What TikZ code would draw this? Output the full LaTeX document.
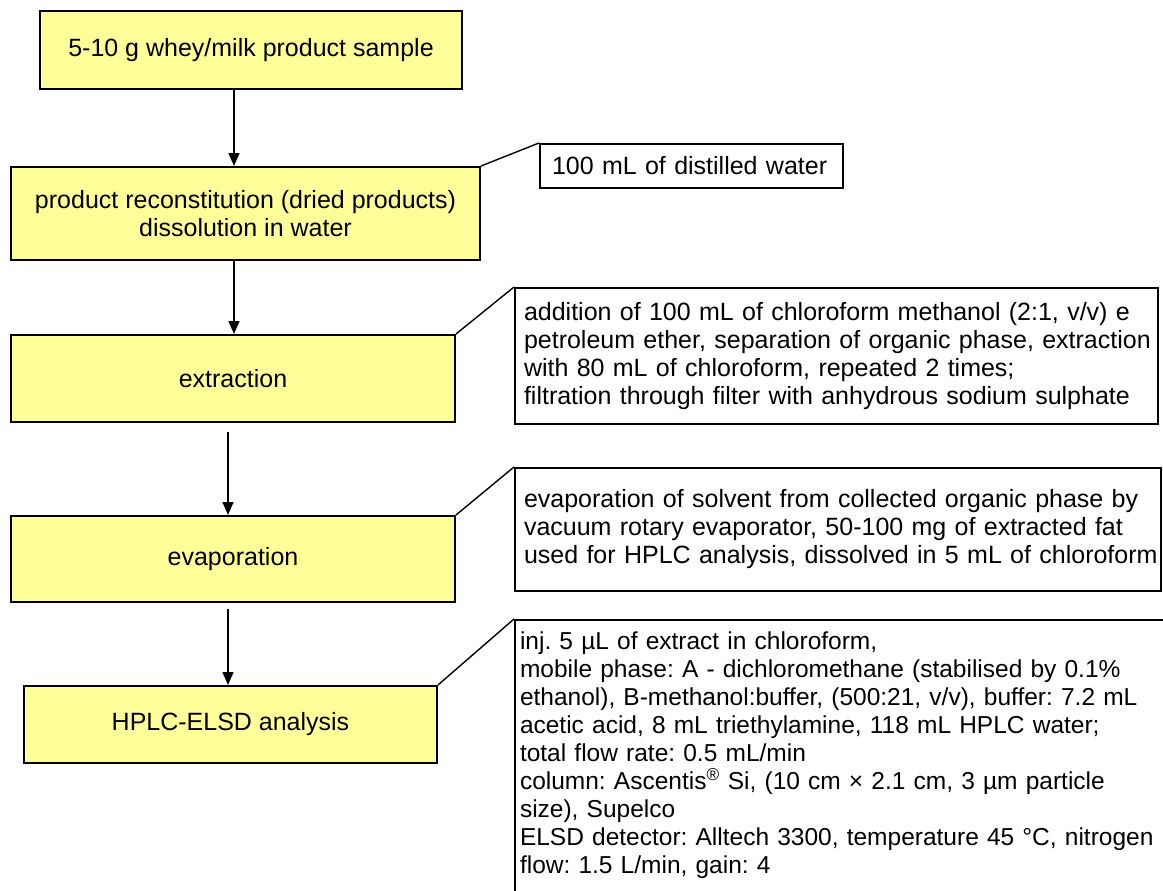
\documentclass[tikz,border=0pt]{standalone}
\usepackage{fontspec}
\setmainfont{Liberation Sans}
\usetikzlibrary{arrows.meta}
\definecolor{stepfill}{HTML}{FFFF99}
\frenchspacing
\begin{document}
\begin{tikzpicture}[x=1pt,y=-1pt,
  every node/.style={font=\fontsize{25}{28}\selectfont},
  stepbox/.style={draw=black, line width=2pt, fill=stepfill, align=center, inner sep=0pt},
  notebox/.style={draw=black, line width=2pt, fill=white, align=left, anchor=north west, inner xsep=9pt, inner ysep=0pt},
  flow/.style={line width=1.4pt, -{Triangle[length=13pt,width=11pt]}},
  link/.style={line width=1.4pt}]
\useasboundingbox (0,0) rectangle (1163,891);
\clip (0,0) rectangle (1163,891);

% process steps
\node[stepbox, minimum width=422pt, minimum height=78pt] (s1) at (251,50) {5-10 g whey/milk product sample};
\node[stepbox, minimum width=469pt, minimum height=93pt] (s2) at (245.5,213.5) {product reconstitution (dried products)\\dissolution in water};
\node[stepbox, minimum width=444pt, minimum height=87pt] (s3) at (233,378.5) {extraction};
\node[stepbox, minimum width=444pt, minimum height=86pt] (s4) at (233,559) {evaporation};
\node[stepbox, minimum width=413pt, minimum height=77pt] (s5) at (230.5,724.5) {HPLC-ELSD analysis};

% notes
\node[notebox, inner xsep=12pt, text width=279pt, minimum height=44pt] (n1) at (539,143)
  {100 mL of distilled water};
\node[notebox, text width=625pt, minimum height=136pt] (n2) at (514,287)
  {\mbox{addition of 100 mL of chloroform methanol (2:1, v/v) e}\\
   \mbox{petroleum ether, separation of organic phase, extraction}\\
   \mbox{with 80 mL of chloroform, repeated 2 times;}\\
   \mbox{filtration through filter with anhydrous sodium sulphate}};
\node[notebox, text width=628pt, minimum height=123pt] (n3) at (514,467)
  {\mbox{evaporation of solvent from collected organic phase by}\\
   \mbox{vacuum rotary evaporator, 50-100 mg of extracted fat}\\
   \mbox{used for HPLC analysis, dissolved in 5 mL of chloroform}};
\node[notebox, font=\fontsize{24.5}{28}\selectfont, inner xsep=5pt, text width=654pt, inner ysep=12pt, text depth=262pt] (n4) at (514,619)
  {\mbox{inj. 5 µL of extract in chloroform,}\\
   \mbox{mobile phase: A - dichloromethane (stabilised by 0.1\%}\\
   \mbox{ethanol), B-methanol:buffer, (500:21, v/v), buffer: 7.2 mL}\\
   \mbox{acetic acid, 8 mL triethylamine, 118 mL HPLC water;}\\
   \mbox{total flow rate: 0.5 mL/min}\\
   \mbox{column: Ascentis\textsuperscript{®} Si, (10 cm × 2.1 cm, 3 µm particle}\\
   \mbox{size), Supelco}\\
   \mbox{ELSD detector: Alltech 3300, temperature 45 °C, nitrogen}\\
   \mbox{flow: 1.5 L/min, gain: 4}};

% flow arrows
\draw[flow] ([xshift=-17pt]s1.south) -- ([xshift=-17pt]s1.south |- s2.north);
\draw[flow] ([xshift=-11.5pt]s2.south) -- ([xshift=-11.5pt]s2.south |- s3.north);
\draw[flow] ([xshift=-5pt,yshift=-9pt]s3.south) -- ([xshift=-5pt]s3.south |- s4.north);
\draw[flow] ([xshift=-5pt,yshift=-6pt]s4.south) -- ([xshift=-5pt]s4.south |- s5.north);

% note leaders
\draw[link] (s2.north east) -- (n1.north west);
\draw[link] (s3.north east) -- (n2.north west);
\draw[link] (s4.north east) -- (n3.north west);
\draw[link] (s5.north east) -- (n4.north west);
\end{tikzpicture}
\end{document}
